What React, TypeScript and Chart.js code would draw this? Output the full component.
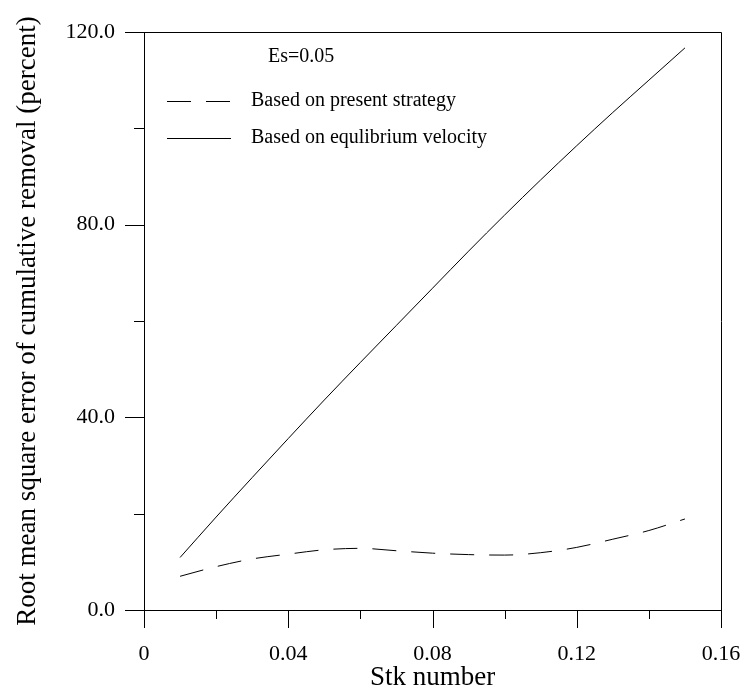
import React, { useEffect, useRef } from "react";
import { Chart, registerables } from "chart.js";

Chart.register(...registerables);

const stkNumber = [0.01, 0.02, 0.03, 0.04, 0.05, 0.06, 0.07, 0.08, 0.09, 0.1, 0.11, 0.12, 0.13, 0.14, 0.15];
const presentStrategy = [7.0, 9.0, 10.6, 11.6, 12.5, 12.8, 12.3, 11.8, 11.5, 11.4, 11.9, 13.0, 14.7, 16.5, 18.9];
const equilibriumVelocity = [10.9, 19.3, 27.5, 35.6, 43.6, 51.4, 59.1, 66.8, 74.5, 82.0, 89.3, 96.4, 103.3, 110.0, 116.7];

const yMajorTicks = [0, 40, 80, 120];
const yMinorTicks = [20, 60, 100];
const xMajorTicks = [0, 0.04, 0.08, 0.12, 0.16];
const xMinorTicks = [0.02, 0.06, 0.1, 0.14];

const seriesLabels = ["Based on present strategy", "Based on equlibrium velocity"];
const annotationText = "Es=0.05";

const FONT = "'Liberation Serif', 'Times New Roman', serif";
const DASH = [24, 15];

const framePlugin = {
  id: "framePlugin",
  afterDraw(chart: any) {
    const ctx = chart.ctx;
    const { left, right, top, bottom } = chart.chartArea;
    const xs = chart.scales.x;
    const ys = chart.scales.y;
    ctx.save();
    ctx.strokeStyle = "#000";
    ctx.lineWidth = 1;
    ctx.beginPath();
    ctx.rect(Math.round(left) + 0.5, Math.round(top) + 0.5, Math.round(right - left), Math.round(bottom - top));
    ctx.stroke();
    const yTick = (v: number, len: number) => {
      const y = Math.round(ys.getPixelForValue(v)) + 0.5;
      ctx.beginPath();
      ctx.moveTo(left - len, y);
      ctx.lineTo(left, y);
      ctx.stroke();
    };
    yMajorTicks.forEach((v) => yTick(v, 19));
    yMinorTicks.forEach((v) => yTick(v, 10));
    const xTick = (v: number, len: number) => {
      const x = Math.round(xs.getPixelForValue(v)) + 0.5;
      ctx.beginPath();
      ctx.moveTo(x, bottom);
      ctx.lineTo(x, bottom + len);
      ctx.stroke();
    };
    xMajorTicks.forEach((v) => xTick(v, 18));
    xMinorTicks.forEach((v) => xTick(v, 9));

    ctx.fillStyle = "#000";
    ctx.font = `20px ${FONT}`;
    ctx.textBaseline = "middle";
    ctx.textAlign = "left";
    ctx.fillText(annotationText, 268, 57);

    const rows = [
      { y: 101, dash: DASH, text: seriesLabels[0] },
      { y: 138, dash: [] as number[], text: seriesLabels[1] },
    ];
    rows.forEach((r) => {
      ctx.beginPath();
      ctx.setLineDash(r.dash);
      ctx.moveTo(167, r.y + 0.5);
      ctx.lineTo(231, r.y + 0.5);
      ctx.stroke();
      ctx.setLineDash([]);
      ctx.fillText(r.text, 251, r.y);
    });
    ctx.restore();
  },
};

export default function App() {
  const canvasRef = useRef<HTMLCanvasElement | null>(null);

  useEffect(() => {
    const canvas = canvasRef.current;
    if (!canvas) return;
    const chart = new Chart(canvas, {
      type: "line",
      data: {
        datasets: [
          {
            label: seriesLabels[0],
            data: stkNumber.map((x, i) => ({ x, y: presentStrategy[i] })),
            borderColor: "#000",
            borderWidth: 1,
            borderDash: DASH,
            pointRadius: 0,
            cubicInterpolationMode: "monotone",
            fill: false,
          },
          {
            label: seriesLabels[1],
            data: stkNumber.map((x, i) => ({ x, y: equilibriumVelocity[i] })),
            borderColor: "#000",
            borderWidth: 1,
            pointRadius: 0,
            cubicInterpolationMode: "monotone",
            fill: false,
          },
        ],
      },
      options: {
        responsive: false,
        maintainAspectRatio: false,
        animation: false,
        devicePixelRatio: 1,
        layout: { padding: { left: 0, top: 32, right: 25, bottom: 0 } },
        plugins: {
          legend: { display: false },
          tooltip: { enabled: false },
        },
        scales: {
          x: {
            type: "linear",
            min: 0,
            max: 0.16,
            grid: {
              display: true,
              drawOnChartArea: false,
              drawTicks: true,
              tickLength: 28,
              tickColor: "rgba(0,0,0,0)",
            },
            border: { display: true, color: "#000", width: 1 },
            ticks: {
              stepSize: 0.04,
              padding: 3,
              color: "#000",
              font: { family: FONT, size: 22 },
              maxRotation: 0,
              autoSkip: false,
              callback: (v: any) => {
                const n = Number(v);
                if (Math.abs(n) < 1e-9) return "0";
                return n.toFixed(2);
              },
            },
            title: {
              display: true,
              text: "Stk number",
              color: "#000",
              font: { family: FONT, size: 27, lineHeight: 0.9 },
              padding: { top: 0, bottom: 0 },
            },
            afterFit: (scale: any) => {
              scale.height = 80;
            },
          },
          y: {
            type: "linear",
            min: 0,
            max: 120,
            grid: {
              display: true,
              drawOnChartArea: false,
              drawTicks: true,
              tickLength: 19,
              tickColor: "rgba(0,0,0,0)",
            },
            border: { display: true, color: "#000", width: 1 },
            ticks: {
              stepSize: 40,
              padding: 10,
              color: "#000",
              font: { family: FONT, size: 22 },
              callback: (v: any) => Number(v).toFixed(1),
            },
            title: {
              display: true,
              text: "Root mean square error of cumulative removal (percent)",
              color: "#000",
              font: { family: FONT, size: 27, lineHeight: 1 },
              padding: { top: 14, bottom: 0 },
            },
            afterFit: (scale: any) => {
              scale.width = 144;
            },
          },
        },
      },
      plugins: [framePlugin],
    } as any);
    return () => chart.destroy();
  }, []);

  return (
    <div style={{ position: "fixed", left: 0, top: 0, width: 746, height: 690, background: "#fff" }}>
      <canvas ref={canvasRef} width={746} height={690} style={{ display: "block" }} />
    </div>
  );
}
